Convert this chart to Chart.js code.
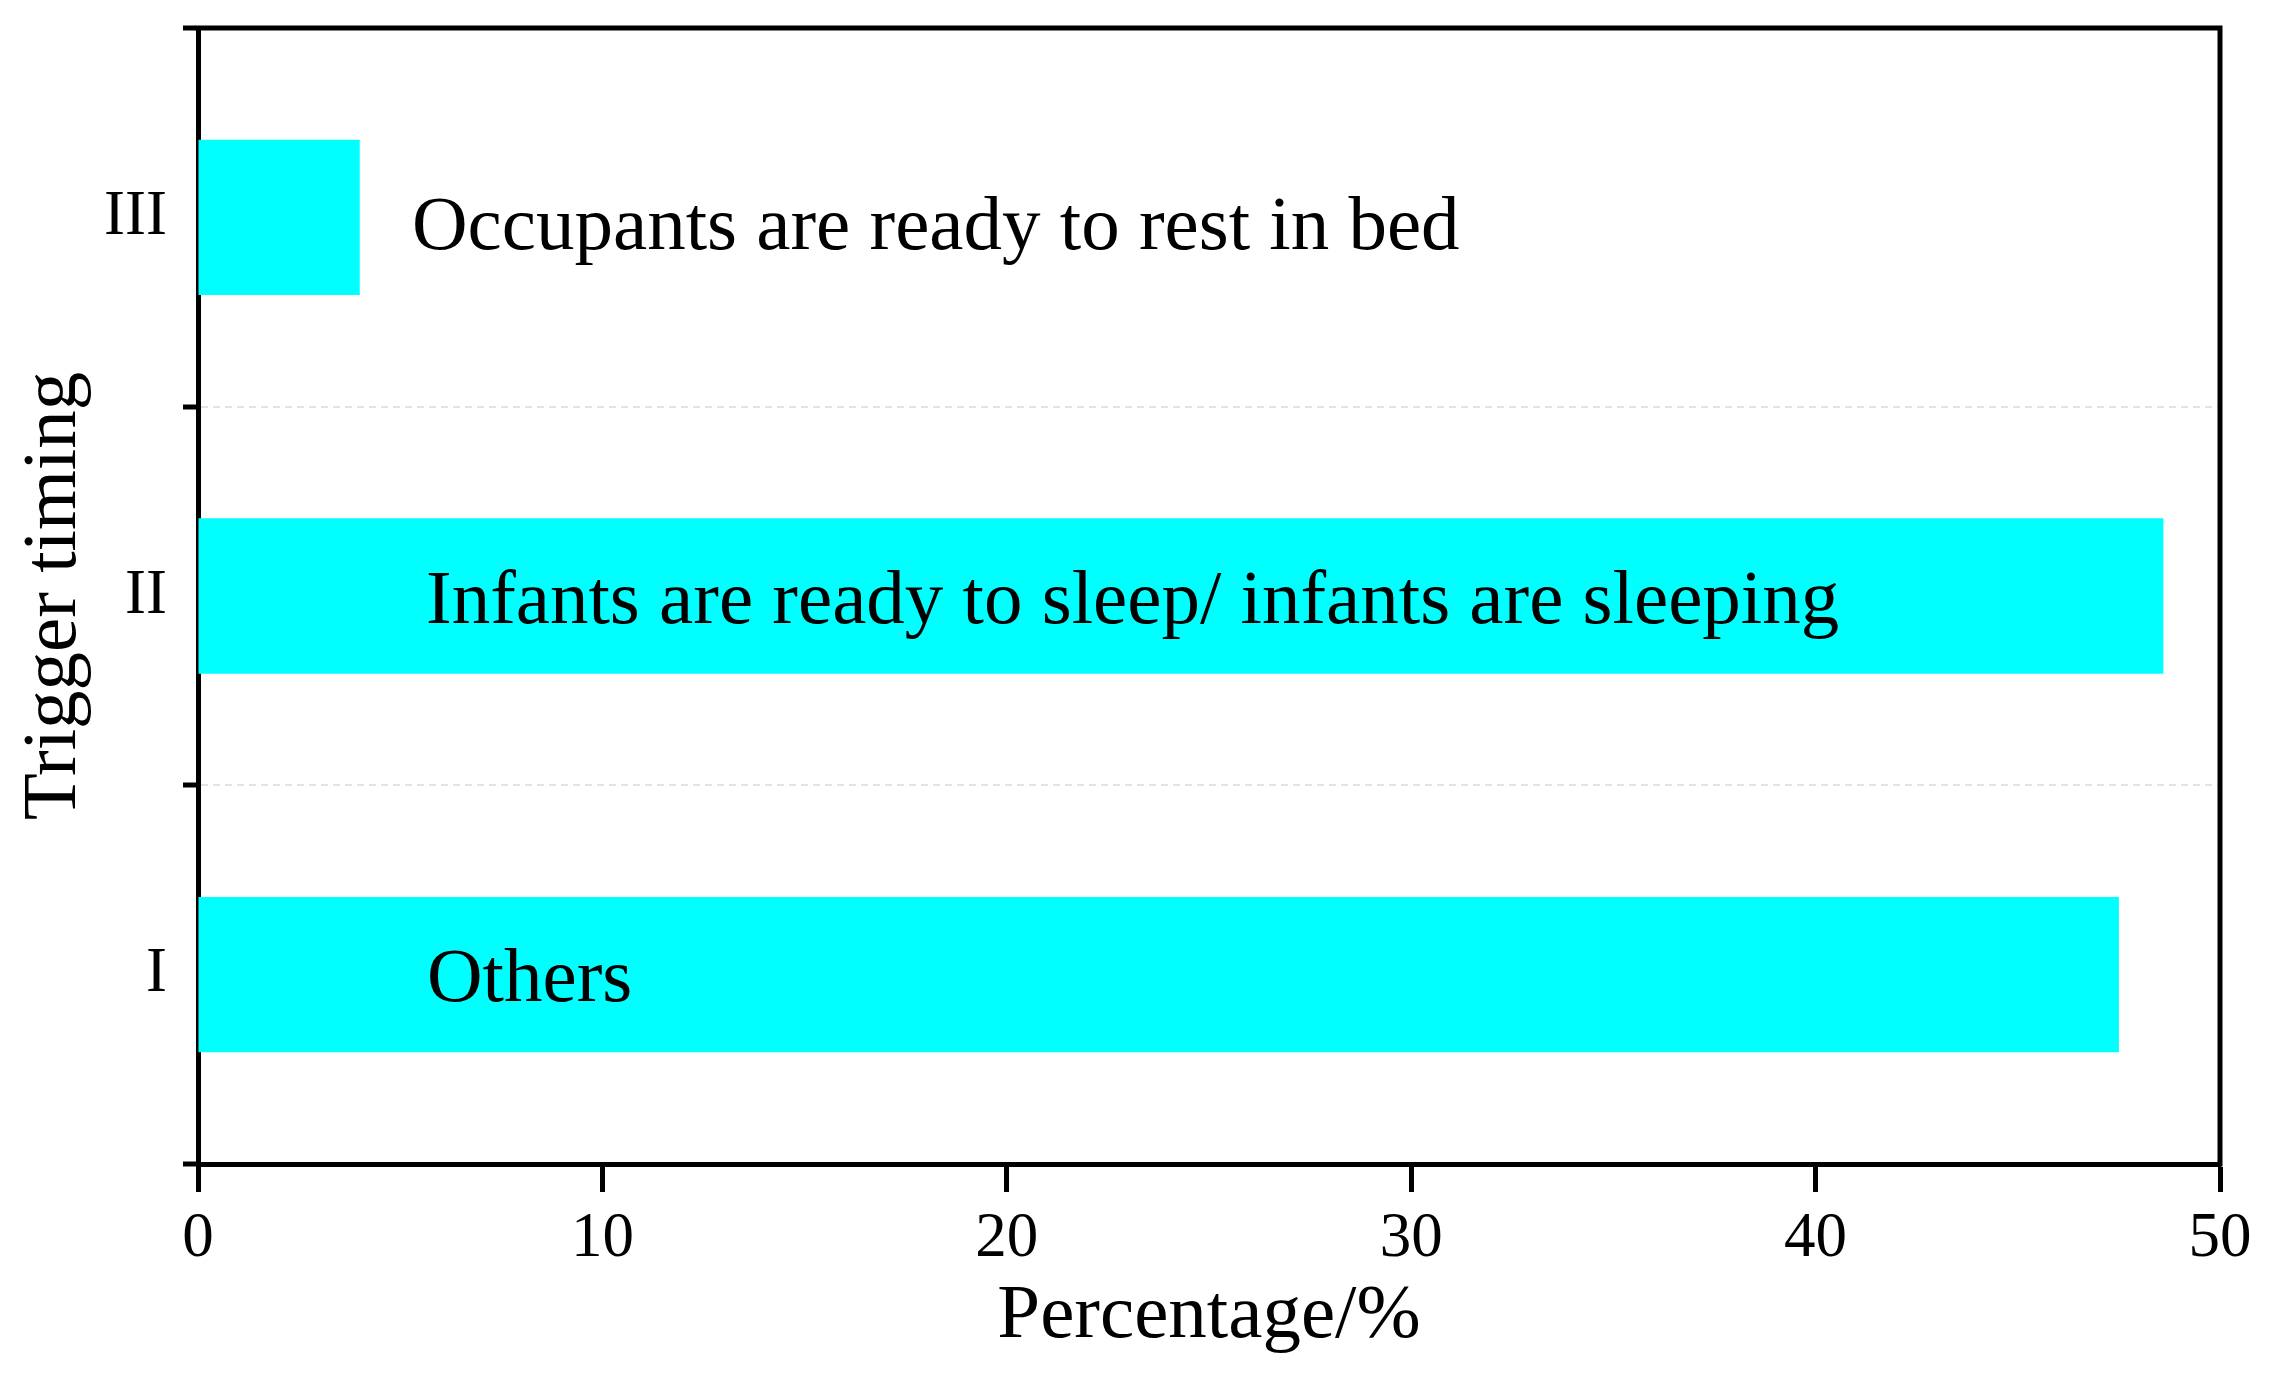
<!DOCTYPE html>
<html>
<head>
<meta charset="utf-8">
<script src="https://cdn.jsdelivr.net/npm/chart.js@4"></script>
<style>
  html, body { margin: 0; padding: 0; background: #fff; }
  #wrap { width: 2272px; height: 1384px; }
</style>
</head>
<body>
<div id="wrap"><canvas id="barChart"></canvas></div>
<script>
// data
const categories = ['I', 'II', 'III'];
const percentages = [47.5, 48.6, 4.0];
const barTexts = ['Others', 'Infants are ready to sleep/ infants are sleeping', 'Occupants are ready to rest in bed'];
const xTicks = [0, 10, 20, 30, 40, 50];

const serif = '"Liberation Serif", "Times New Roman", serif';

// text inside bars (px from the axis, baseline shift)
const textInset = [229, 228, 214];
const textShift = [26, 27, 32];

const barTextPlugin = {
    id: 'barText',
    afterDatasetsDraw(chart) {
        const ctx = chart.ctx;
        const xs = chart.scales.x;
        const ys = chart.scales.y;
        ctx.save();
        ctx.font = '77px ' + serif;
        ctx.fillStyle = '#000';
        ctx.textAlign = 'left';
        ctx.textBaseline = 'alphabetic';
        barTexts.forEach((t, i) => {
            const x = xs.getPixelForValue(0) + textInset[i];
            const y = ys.getPixelForValue(i) + textShift[i];
            ctx.fillText(t, x, y);
        });
        ctx.restore();
    }
};

// top and right sides of the box
const framePlugin = {
    id: 'frame',
    afterDraw(chart) {
        const { ctx, chartArea: a } = chart;
        ctx.save();
        ctx.strokeStyle = '#000';
        ctx.lineWidth = 5;
        ctx.beginPath();
        ctx.moveTo(a.left - 2.5, a.top);
        ctx.lineTo(a.right, a.top);
        ctx.lineTo(a.right, a.bottom + 2.5);
        ctx.stroke();
        ctx.restore();
    }
};

const barCtx = document.getElementById('barChart').getContext('2d');
new Chart(barCtx, {
    type: 'bar',
    data: {
        labels: categories,
        datasets: [{
            data: percentages,
            backgroundColor: '#00ffff',
            borderWidth: 0,
            barPercentage: 0.41,
            categoryPercentage: 1
        }]
    },
    options: {
        indexAxis: 'y',
        responsive: true,
        maintainAspectRatio: false,
        animation: false,
        layout: { padding: { top: 28, right: 52, left: 0, bottom: 0 } },
        plugins: {
            legend: { display: false },
            tooltip: { enabled: false }
        },
        scales: {
            x: {
                type: 'linear',
                min: 0,
                max: 50,
                afterBuildTicks: (s) => { s.ticks = xTicks.map(v => ({ value: v })); },
                afterFit: (s) => { s.height = 220; },
                grid: {
                    drawOnChartArea: false,
                    tickLength: 28,
                    tickWidth: 5,
                    tickColor: '#000'
                },
                border: { color: '#000', width: 5 },
                ticks: {
                    color: '#000',
                    padding: 10,
                    font: { family: serif, size: 63 }
                },
                title: {
                    display: true,
                    text: 'Percentage/%',
                    color: '#000',
                    font: { family: serif, size: 77 },
                    padding: { top: 0, bottom: 21 }
                }
            },
            y: {
                reverse: true,
                offset: true,
                afterFit: (s) => {
                    s.width = 198;
                    s.paddingTop = 0;
                    s.paddingBottom = 0;
                },
                grid: {
                    offset: true,
                    color: (c) => (c.index === 1 || c.index === 2) ? '#e3e3e3' : 'rgba(0,0,0,0)',
                    lineWidth: 2,
                    tickLength: 15,
                    tickWidth: 5,
                    tickColor: '#000'
                },
                border: { color: '#000', width: 5, dash: [7, 5] },
                ticks: {
                    color: '#000',
                    padding: 16,
                    font: { family: serif, size: 63 }
                },
                title: {
                    display: true,
                    text: 'Trigger timing',
                    color: '#000',
                    font: { family: serif, size: 77 },
                    padding: { top: 9, bottom: 0 }
                }
            }
        }
    },
    plugins: [barTextPlugin, framePlugin]
});
</script>
</body>
</html>
